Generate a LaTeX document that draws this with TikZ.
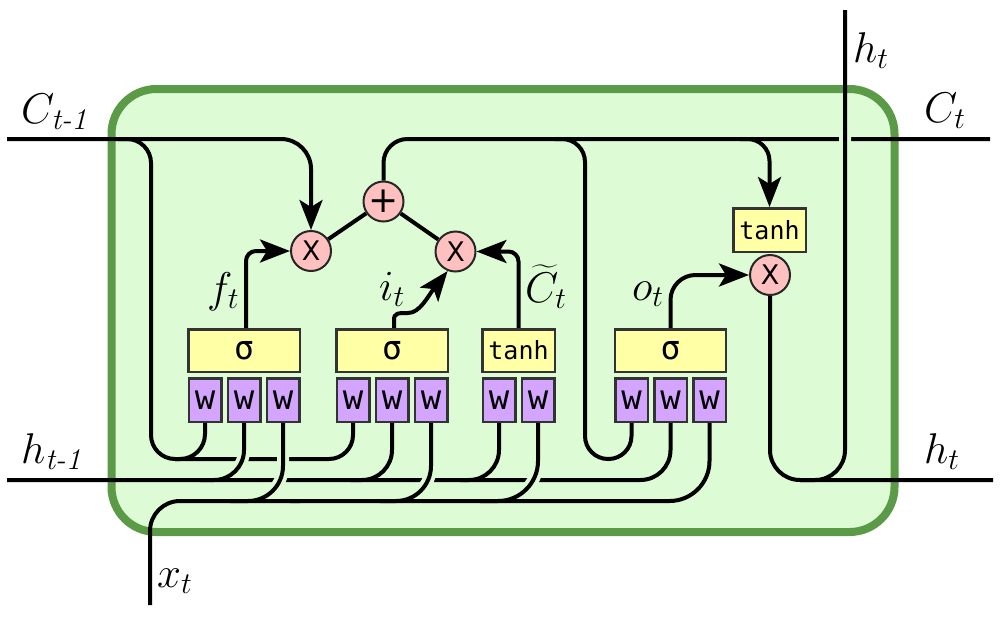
\RequirePackage{fix-cm}
\documentclass[tikz,border=0pt]{standalone}
\usepackage{amsmath}
\usepackage{fontspec}
\newfontfamily\monofont{DejaVu Sans Mono}
\newfontfamily\opfont{DejaVu Sans}
\usetikzlibrary{arrows.meta}
\pgfdeclarelayer{boxlayer}
\pgfdeclarelayer{wiresA}
\pgfdeclarelayer{halolayer}
\pgfdeclarelayer{wiresB}
\pgfsetlayers{boxlayer,wiresA,halolayer,wiresB,main}
\definecolor{bgfill}{HTML}{DDFCD5}
\definecolor{boxgreen}{HTML}{5B9A46}
\definecolor{gateyellow}{HTML}{FFFFA6}
\definecolor{wpurple}{HTML}{D4A5FF}
\definecolor{oppink}{HTML}{FFC0C0}
\definecolor{edgegray}{HTML}{333333}
\begin{document}
\begin{tikzpicture}[x=1pt,y=-1pt,
  wire/.style={line width=4pt, black},
  arr/.style={-{Stealth[length=30pt,width=23pt,inset=7pt]}},
  halo/.style={line width=12pt, bgfill},
  gatebox/.style={rectangle, draw=edgegray, fill=gateyellow, line width=2.5pt, minimum height=42.5pt, inner sep=0pt, font=\monofont\fontsize{33}{33}\selectfont},
  tanhbox/.style={gatebox, minimum width=72.5pt, font=\monofont\fontsize{25}{25}\selectfont},
  wbox/.style={rectangle, draw=edgegray, fill=wpurple, line width=2.5pt, minimum width=32.5pt, minimum height=43.5pt, inner sep=0pt, font=\monofont\fontsize{34}{34}\selectfont},
  opnode/.style={circle, draw=black!85, fill=oppink, line width=2pt, minimum size=40pt, inner sep=0pt},
  lab/.style={anchor=base west, inner sep=0pt, font=\fontsize{43}{48}\selectfont}]

\useasboundingbox (0,0) rectangle (1000,616);

% ---- nodes ----
\node[gatebox, minimum width=111.5pt] (fg) at (244,350.5) {σ};
\node[wbox] (fw1) at (205,400) {w};
\node[wbox] (fw2) at (244,400) {w};
\node[wbox] (fw3) at (283,400) {w};
\node[gatebox, minimum width=111.5pt] (ig) at (392,350.5) {σ};
\node[wbox] (iw1) at (353,400) {w};
\node[wbox] (iw2) at (392,400) {w};
\node[wbox] (iw3) at (431,400) {w};
\node[tanhbox] (tg) at (518.5,350.5) {tanh};
\node[wbox] (tw1) at (499,400) {w};
\node[wbox] (tw2) at (538,400) {w};
\node[gatebox, minimum width=111pt] (og) at (670.5,350.5) {σ};
\node[wbox] (ow1) at (631.5,400) {w};
\node[wbox] (ow2) at (670.5,400) {w};
\node[wbox] (ow3) at (709.5,400) {w};
\node[tanhbox, minimum height=43.5pt] (otanh) at (769.5,230) {tanh};

\node[opnode, font=\opfont\fontsize{27}{27}\selectfont] (fm) at (311,251) {X};
\node[opnode, font=\opfont\fontsize{36}{36}\selectfont] (plus) at (383.5,201.5) {+};
\node[opnode, font=\opfont\fontsize{27}{27}\selectfont] (im) at (455.5,251.5) {X};
\node[opnode, font=\opfont\fontsize{27}{27}\selectfont] (om) at (770,275) {X};

% ---- labels ----
\node[lab] (lcin) at (21,123) {$C_{\textit{t-1}}$};
\node[lab] (lhin) at (21,463) {$h_{\textit{t-1}}$};
\node[lab] (lcout) at (924,122) {$C_t$};
\node[lab] (lhtop) at (853,62) {$h_t$};
\node[lab] (lhout) at (924,463) {$h_t$};
\node[lab] (lx) at (157,587) {$x_t$};
\node[lab] (lf) at (207,302) {$f_t$};
\node[lab] (li) at (379,300) {$i_t$};
\node[lab] (lc) at (525,302) {$\widetilde{C}_t$};
\node[lab] (lo) at (632,300) {$o_t$};

% ---- coordinates of free ends ----
\coordinate (cin) at (7,139);
\coordinate (cout) at (990,139);
\coordinate (hin) at (7,480);
\coordinate (hout) at (993,480);
\coordinate (htop) at (845,10);
\coordinate (xin) at (150,605);

% ---- box ----
\begin{pgfonlayer}{boxlayer}
  \fill[white] (0,0) rectangle (1000,616);
  \draw[line width=8pt, draw=boxgreen, fill=bgfill, rounded corners=45pt] (111.5,89) rectangle (894.5,532);
\end{pgfonlayer}

% ---- base wires ----
\begin{pgfonlayer}{wiresA}
  % C_{t-1} into forget multiply
  \draw[wire, arr, rounded corners=30pt] (cin) -| (fm.north);
  % peephole from C_{t-1}
  \draw[wire, rounded corners=24pt] (118,139) -| (151,459) -| (iw1.south);
  \draw[wire, rounded corners=25pt] (fw1.south) |- (175,459);
  % h_{t-1} bus
  \draw[wire, rounded corners=30pt] (hin) -| (ow2.south);
  \draw[wire, rounded corners=30pt] (iw2.south) |- (350,480);
  \draw[wire, rounded corners=30pt] (tw1.south) |- (460,480);
  % x_t bus
  \draw[wire, rounded corners=30pt] (xin) |- (300,501);
  \draw[wire, rounded corners=40pt] (290,501) -| (ow3.south);
  % C_t line
  \draw[wire, rounded corners=24pt] (plus.north) |- (cout);
  \draw[wire, rounded corners=23pt] (555,139) -| (585,459) -| (ow1.south);
  \draw[wire, arr, rounded corners=22pt] (740,139) -| (otanh.north);
  % gates to multipliers
  \draw[wire, arr, rounded corners=10pt] ([xshift=2pt]fg.north) |- (fm.west);
  \draw[wire, arr] ([xshift=2pt]ig.north) -- (394,320) .. controls (394,313) and (398,313) .. (408,313) .. controls (420,313) and (428,296) .. (im.248);
  \draw[wire, arr, rounded corners=10pt] (tg.north) |- (im.east);
  \draw[wire, arr, rounded corners=25pt] (og.north) |- (om.west);
  \draw[wire] (fm) -- (plus);
  \draw[wire] (plus) -- (im);
  % output
  \draw[wire, rounded corners=30pt] (om.south) |- (hout);
\end{pgfonlayer}

% ---- halos for crossings ----
\begin{pgfonlayer}{halolayer}
  \begin{scope}
    \clip (230,423) rectangle (260,470);
    \draw[halo, rounded corners=30pt] (fw2.south) |- (200,480);
  \end{scope}
  \begin{scope}
    \clip (262,423) rectangle (300,493);
    \draw[halo, rounded corners=35pt] (fw3.south) |- (230,501);
  \end{scope}
  \begin{scope}
    \clip (410,423) rectangle (450,493);
    \draw[halo, rounded corners=35pt] (iw3.south) |- (380,501);
  \end{scope}
  \begin{scope}
    \clip (515,423) rectangle (555,493);
    \draw[halo, rounded corners=40pt] (tw2.south) |- (480,501);
  \end{scope}
  \begin{scope}
    \clip (830,120) rectangle (860,160);
    \draw[halo, rounded corners=30pt] (800,480) -| (htop);
  \end{scope}
\end{pgfonlayer}

% ---- crossing wires ----
\begin{pgfonlayer}{wiresB}
  \draw[wire, rounded corners=30pt] (fw2.south) |- (200,480);
  \draw[wire, rounded corners=35pt] (fw3.south) |- (230,501);
  \draw[wire, rounded corners=35pt] (iw3.south) |- (380,501);
  \draw[wire, rounded corners=40pt] (tw2.south) |- (480,501);
  \draw[wire, rounded corners=30pt] (800,480) -| (htop);
\end{pgfonlayer}
\end{tikzpicture}
\end{document}
